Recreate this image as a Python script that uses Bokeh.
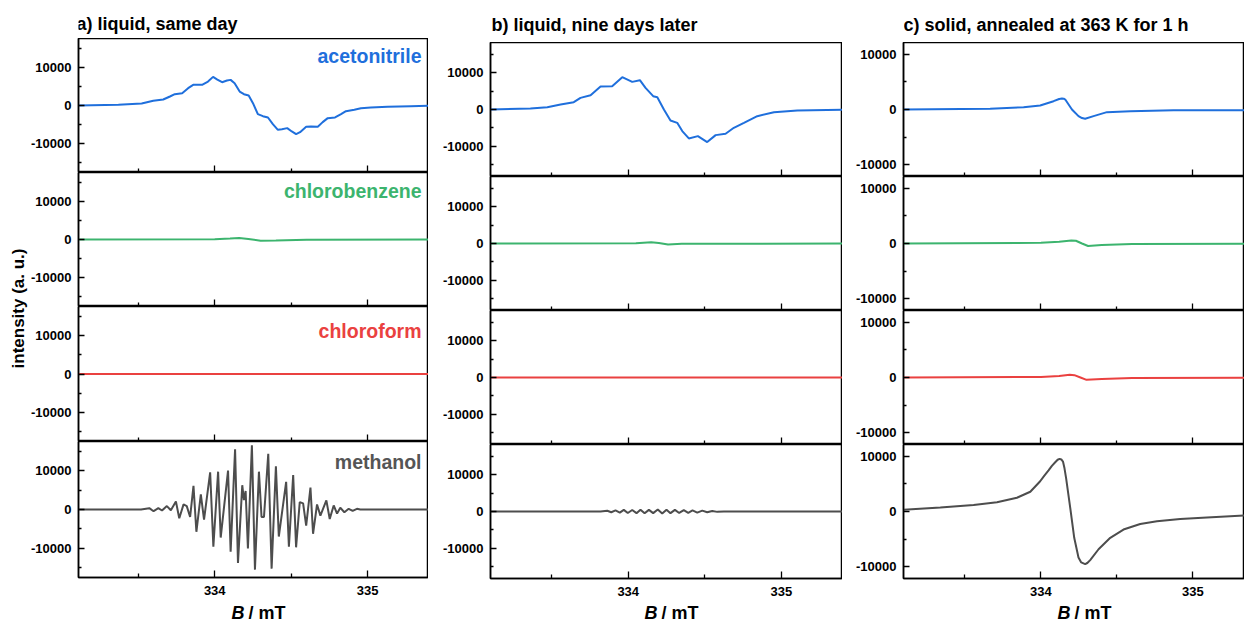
import math
from bokeh.plotting import figure
from bokeh.layouts import row, column
from bokeh.models import Range1d, FixedTicker, CustomJSTickFormatter, Label, LinearAxis
from bokeh.embed import file_html
from bokeh.resources import INLINE

FONT = "Liberation Sans"

panel_titles = ["a) liquid, same day", "b) liquid, nine days later",
                "c) solid, annealed at 363 K for 1 h"]
solvents = ["acetonitrile", "chlorobenzene", "chloroform", "methanol"]
solvent_colors = ["#1f6fdc", "#3cb46e", "#ea4140", "#555555"]
line_colors = ["#1f6fdc", "#3cb46e", "#ea4140", "#4d4d4d"]
x_ticks = [334, 335]
x_minor = [333.5, 334.5]
y_ticks = [-10000, 0, 10000]
y_minor = [-15000, -5000, 5000, 15000]
x_label_main = "B"
x_label_unit = "/ mT"
y_label = "intensity (a. u.)"

# ---------------- a) liquid, same day ----------------
acn_a_B = [333.109, 333.370, 333.522, 333.598, 333.663, 333.707, 333.739, 333.787, 333.826,
           333.859, 333.917, 333.956, 333.989, 334.017, 334.048, 334.080, 334.104, 334.130,
           334.163, 334.191, 334.222, 334.250, 334.282, 334.315, 334.348, 334.380, 334.413,
           334.439, 334.474, 334.504, 334.532, 334.558, 334.598, 334.630, 334.674, 334.706,
           334.739, 334.787, 334.826, 334.858, 334.913, 334.956, 335.021, 335.130, 335.282,
           335.404]
acn_a_I = [0, 180, 530, 1230, 1580, 2370, 2980, 3250, 4560,
           5440, 5440, 6310, 7540, 6840, 6140, 6580, 6750, 5880,
           3680, 2980, 2630, 610, -2280, -2810, -3160, -4910, -6400,
           -6230, -5960, -6840, -7540, -7020, -5610, -5530, -5610, -4380,
           -3330, -3160, -2280, -1490, -1140, -700, -530, -350, -180,
           -90]

cb_a_B = [333.109, 334.000, 334.100, 334.160, 334.220, 334.300, 334.400, 334.600, 335.404]
cb_a_I = [0, 50, 250, 400, 150, -300, -250, -80, 0]

cf_a_B = [333.109, 333.800, 334.300, 334.800, 335.404]
cf_a_I = [0, 0, 0, 0, 0]

me_a_B = [333.109, 333.518, 333.572, 333.600, 333.631, 333.655, 333.687, 333.713, 333.746,
          333.768, 333.796, 333.817, 333.839, 333.861, 333.880, 333.909, 333.930, 333.970,
          333.991, 334.022, 334.039, 334.087, 334.104, 334.133, 334.152, 334.180, 334.191,
          334.202, 334.217, 334.243, 334.263, 334.289, 334.306, 334.322, 334.350, 334.372,
          334.400, 334.419, 334.467, 334.485, 334.513, 334.532, 334.556, 334.578, 334.598,
          334.626, 334.643, 334.669, 334.691, 334.730, 334.752, 334.778, 334.800, 334.821,
          334.848, 334.876, 334.902, 334.930, 334.952, 335.404]
me_a_I = [0, 0, 350, -440, 350, -260, 880, -180, 2100,
          -2280, 1320, 880, -1930, 6140, -5790, 3950, -2630, 9650,
          -9650, 9820, -7280, 10090, -10960, 15610, -13860, 6310, 2460,
          4820, -10090, 16660, -15610, 9820, -1930, -1930, 14470, -15350,
          11230, -7020, 7190, -9650, 8950, -9820, 1930, 1580, -4210,
          5700, -6310, 1320, -1580, 2370, -2460, 1050, -1050, 440,
          -700, 180, -350, 180, 0, 0]

# ---------------- b) liquid, nine days later ----------------
acn_b_B = [333.100, 333.361, 333.471, 333.558, 333.644, 333.688, 333.754, 333.819, 333.895,
           333.961, 334.026, 334.076, 334.113, 334.163, 334.190, 334.233, 334.276, 334.320,
           334.353, 334.396, 334.455, 334.516, 334.571, 334.636, 334.690, 334.756, 334.843,
           334.952, 335.105, 335.400]
acn_b_I = [0, 270, 640, 1360, 2000, 3180, 3900, 6270, 6360,
           8820, 7550, 8000, 5900, 3640, 3360, 0, -3000, -3640,
           -5900, -7900, -7270, -8900, -7000, -6640, -5000, -3640, -1820,
           -730, -270, -90]

cb_b_B = [333.100, 334.050, 334.150, 334.200, 334.260, 334.350, 335.400]
cb_b_I = [0, 100, 350, 150, -300, -100, 0]

cf_b_B = [333.100, 333.800, 334.300, 334.800, 335.400]
cf_b_I = [0, 0, 0, 0, 0]

me_b_B = [333.100, 333.819, 333.863, 333.889, 333.917, 333.945, 333.971, 333.997, 334.026,
          334.054, 334.080, 334.107, 334.135, 334.163, 334.193, 334.222, 334.250, 334.276,
          334.305, 334.333, 334.363, 334.392, 334.420, 334.451, 334.484, 334.516, 334.549,
          334.582, 334.625, 335.400]
me_b_I = [0, 0, 200, -200, 300, -300, 450, -400, 400,
          -450, 500, -500, 450, -450, 550, -550, 500, -450,
          450, -400, 400, -350, 300, -300, 250, -200, 150,
          -100, 0, 0]

# ---------------- c) solid, annealed ----------------
acn_c_B = [333.096, 333.666, 333.886, 333.995, 334.083, 334.120, 334.138, 334.150, 334.160,
           334.182, 334.204, 334.247, 334.270, 334.291, 334.346, 334.434, 334.588, 334.872,
           335.338]
acn_c_I = [0, 120, 420, 720, 1500, 1900, 1980, 1950, 1800,
           900, 0, -1200, -1550, -1680, -1200, -480, -300, -120,
           -120]

cb_c_B = [333.096, 334.000, 334.120, 334.200, 334.230, 334.270, 334.310, 334.400, 334.600, 335.338]
cb_c_I = [0, 120, 300, 550, 500, 0, -450, -250, -100, -50]

cf_c_B = [333.096, 334.000, 334.120, 334.190, 334.220, 334.260, 334.300, 334.400, 334.600, 335.338]
cf_c_I = [0, 100, 250, 480, 420, 0, -420, -250, -100, -50]

me_c_B = [333.097, 333.338, 333.557, 333.711, 333.842, 333.930, 333.995, 334.020, 334.050,
          334.072, 334.094, 334.110, 334.123, 334.134, 334.145, 334.155, 334.166, 334.193,
          334.219, 334.247, 334.265, 334.291, 334.305, 334.324, 334.379, 334.456, 334.543,
          334.653, 334.763, 334.916, 335.092, 335.338]
me_c_I = [300, 710, 1190, 1660, 2490, 3560, 5460, 6400, 7420,
          8250, 8900, 9350, 9500, 9400, 9020, 7800, 5930, 590,
          -4750, -8310, -9200, -9500, -9300, -8780, -6820, -4750, -3260,
          -2260, -1780, -1370, -1070, -710]

series = [
    [(acn_a_B, acn_a_I), (cb_a_B, cb_a_I), (cf_a_B, cf_a_I), (me_a_B, me_a_I)],
    [(acn_b_B, acn_b_I), (cb_b_B, cb_b_I), (cf_b_B, cf_b_I), (me_b_B, me_b_I)],
    [(acn_c_B, acn_c_I), (cb_c_B, cb_c_I), (cf_c_B, cf_c_I), (me_c_B, me_c_I)],
]

# layout (page has no margin: pixel 0 is the window edge)
col_cfg = [
    dict(x=(333.109, 335.398), y=17650, width=400, left=48, header=38,
         heights=[134, 134, 135, 136], bottom=23, title_mid=23, title_dx=-2),
    dict(x=(333.100, 335.400), y=18300, width=414, left=62, header=42,
         heights=[134, 134, 134, 134], bottom=22, title_mid=24, title_dx=1),
    dict(x=(333.096, 335.339), y=12100, width=402, left=61, header=42,
         heights=[134, 134, 134, 134], bottom=22, title_mid=24, title_dx=0),
]
FOOTER = 25
TOTAL_H = 625
label_mid = [17, 18, 24, 20]   # distance of label centre below panel top

fmt = CustomJSTickFormatter(code="return tick.toFixed(0);")


def blank_fig(w, h, fw=None):
    fw = w if fw is None else fw
    f = figure(width=w, height=h, x_range=Range1d(0, fw), y_range=Range1d(0, h),
               output_backend="svg", toolbar_location=None, min_border=0,
               x_axis_type=None, y_axis_type=None)
    f.grid.visible = False
    f.outline_line_color = None
    f.background_fill_color = "white"
    f.border_fill_color = "white"
    return f


def style_axis(ax):
    ax.axis_line_color = "black"
    ax.axis_line_width = 1.5
    ax.major_tick_line_color = "black"
    ax.minor_tick_line_color = "black"
    ax.major_tick_line_width = 1.3
    ax.minor_tick_line_width = 1.3
    ax.major_tick_out = 0
    ax.minor_tick_out = 0
    ax.major_label_text_font = FONT
    ax.major_label_text_font_style = "bold"
    ax.major_label_text_font_size = "13px"
    ax.major_label_text_color = "black"
    ax.formatter = fmt


def make_panel(ci, ri):
    cfg = col_cfg[ci]
    last = ri == 3
    h = cfg["heights"][ri] + (cfg["bottom"] if last else 0)
    p = figure(width=cfg["width"], height=h,
               x_range=Range1d(*cfg["x"]), y_range=Range1d(-cfg["y"], cfg["y"]),
               output_backend="svg", toolbar_location=None,
               min_border_left=cfg["left"], min_border_right=0, min_border_top=0,
               min_border_bottom=cfg["bottom"] if last else 0)
    B, I = series[ci][ri]
    p.line(B, I, line_color=line_colors[ri], line_width=2.0)
    p.xgrid.visible = False
    p.ygrid.visible = False
    p.outline_line_color = "black"
    p.outline_line_width = 1.5
    p.background_fill_color = "white"
    p.border_fill_color = "white"
    style_axis(p.yaxis[0])
    p.yaxis.ticker = FixedTicker(ticks=y_ticks, minor_ticks=y_minor)
    p.yaxis.major_tick_in = 6
    p.yaxis.minor_tick_in = 3
    p.yaxis.major_label_standoff = 7
    style_axis(p.xaxis[0])
    if last:
        p.xaxis.ticker = FixedTicker(ticks=x_ticks, minor_ticks=x_minor)
        p.xaxis.major_tick_in = 7
        p.xaxis.minor_tick_in = 4
        p.xaxis.major_label_standoff = 8
    else:
        # tick marks only (no labels): short ticks and long ticks on two stacked axes
        p.xaxis.ticker = FixedTicker(ticks=[], minor_ticks=x_minor)
        p.xaxis.minor_tick_in = 4
        p.xaxis.major_label_standoff = 0
        ax2 = LinearAxis(ticker=FixedTicker(ticks=[], minor_ticks=x_ticks))
        style_axis(ax2)
        ax2.minor_tick_in = 7
        ax2.major_label_standoff = 0
        p.add_layout(ax2, "below")
    if ci == 0:
        p.add_layout(Label(x=cfg["x"][1], y=cfg["y"], x_offset=-7, y_offset=-label_mid[ri],
                           text=solvents[ri], text_align="right", text_baseline="middle",
                           text_font=FONT, text_font_style="bold",
                           text_font_size="19.5px", text_color=solvent_colors[ri]))
    return p


def frame_w(cfg):
    return cfg["width"] - cfg["left"]


def make_header(ci):
    cfg = col_cfg[ci]
    f = blank_fig(cfg["width"], cfg["header"], frame_w(cfg))
    f.add_layout(Label(x=cfg["title_dx"], y=cfg["header"] - cfg["title_mid"],
                       text=panel_titles[ci], text_align="left", text_baseline="middle",
                       text_font=FONT, text_font_style="bold",
                       text_font_size="18px", text_color="black"))
    return f


def make_footer(ci):
    cfg = col_cfg[ci]
    fw = frame_w(cfg)
    f = blank_fig(cfg["width"], FOOTER, fw)
    xc = 176
    f.add_layout(Label(x=xc - 9, y=13, text=x_label_main, text_align="right",
                       text_baseline="middle", text_font=FONT,
                       text_font_style="bold italic", text_font_size="18px",
                       text_color="black"))
    f.add_layout(Label(x=xc - 5, y=13, text=x_label_unit, text_align="left",
                       text_baseline="middle", text_font=FONT,
                       text_font_style="bold", text_font_size="18px",
                       text_color="black"))
    return f


cols = []
for ci in range(3):
    kids = [make_header(ci)] + [make_panel(ci, ri) for ri in range(4)] + [make_footer(ci)]
    cols.append(column(*kids, spacing=0))

YW = 28
ylab = blank_fig(YW, TOTAL_H)
ylab.add_layout(Label(x=18, y=TOTAL_H - 308, text=y_label, angle=math.pi / 2,
                      text_align="center", text_baseline="middle",
                      text_font=FONT, text_font_style="bold",
                      text_font_size="17px", text_color="black"))

layout = row(ylab, *cols, spacing=0)
open("out.html", "w").write(file_html(layout, INLINE))
